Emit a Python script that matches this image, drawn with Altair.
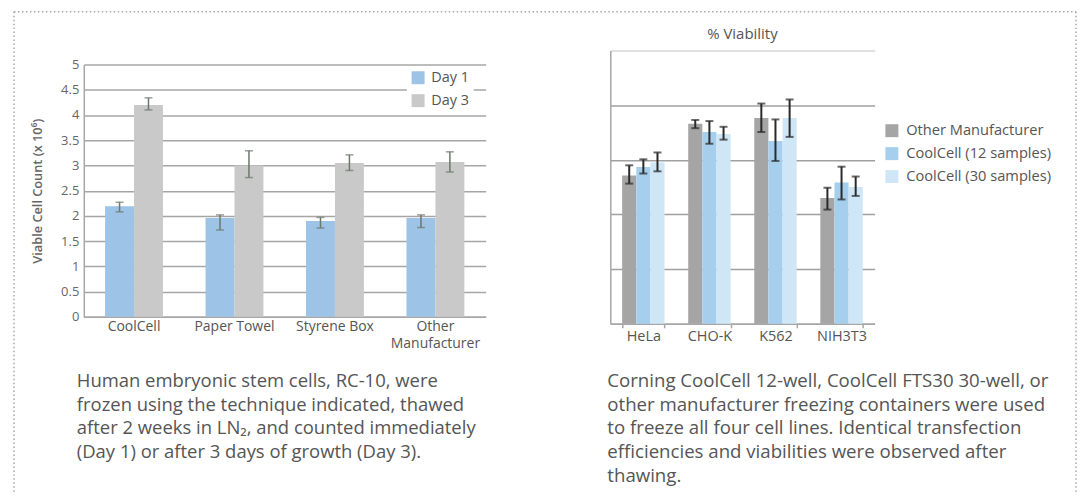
import altair as alt
import pandas as pd

FONT = "Open Sans"
TXT = "#555555"
GRID = "#a6a6a6"

# ---------------- Left chart data ----------------
methods = ["CoolCell", "Paper Towel", "Styrene Box", "Other|Manufacturer"]
days = ["Day 1", "Day 3"]
day1_mean = [2.19, 1.96, 1.90, 1.96]
day1_low = [2.08, 1.72, 1.76, 1.77]
day1_high = [2.27, 2.02, 1.97, 2.02]
day3_mean = [4.20, 3.00, 3.05, 3.07]
day3_low = [4.10, 2.76, 2.90, 2.87]
day3_high = [4.34, 3.29, 3.21, 3.27]
day_colors = ["#9dc3e6", "#c9c9c9"]
y_ticks_left = [0, 0.5, 1, 1.5, 2, 2.5, 3, 3.5, 4, 4.5, 5]

# ---------------- Right chart data ----------------
cell_lines = ["HeLa", "CHO-K", "K562", "NIH3T3"]
containers = ["Other Manufacturer", "CoolCell (12 samples)", "CoolCell (30 samples)"]
other_mean = [54.3, 73.2, 75.3, 46.0]
other_low = [51.3, 71.6, 70.2, 41.8]
other_high = [58.0, 74.6, 80.6, 49.8]
cc12_mean = [57.4, 70.2, 66.9, 51.7]
cc12_low = [55.0, 65.9, 59.6, 45.5]
cc12_high = [60.2, 74.2, 74.8, 57.5]
cc30_mean = [59.0, 69.5, 75.3, 50.1]
cc30_low = [55.8, 67.4, 68.4, 46.8]
cc30_high = [62.7, 72.1, 82.1, 53.9]
container_colors = ["#a5a5a5", "#a6cfee", "#cfe6f7"]
y_ticks_right = [0, 20, 40, 60, 80, 100]

caption_left = [
    "Human embryonic stem cells, RC-10, were",
    "frozen using the technique indicated, thawed",
    "after 2 weeks in LN\u2082, and counted immediately",
    "(Day 1) or after 3 days of growth (Day 3).",
]
caption_right = [
    "Corning CoolCell 12-well, CoolCell FTS30 30-well, or",
    "other manufacturer freezing containers were used",
    "to freeze all four cell lines. Identical transfection",
    "efficiencies and viabilities were observed after",
    "thawing.",
]

rows = []
for i, m in enumerate(methods):
    rows.append({"method": m, "day": "Day 1", "mean": day1_mean[i], "low": day1_low[i], "high": day1_high[i]})
    rows.append({"method": m, "day": "Day 3", "mean": day3_mean[i], "low": day3_low[i], "high": day3_high[i]})
df1 = pd.DataFrame(rows)

rows = []
series = [(other_mean, other_low, other_high), (cc12_mean, cc12_low, cc12_high), (cc30_mean, cc30_low, cc30_high)]
for i, c in enumerate(cell_lines):
    for j, name in enumerate(containers):
        m, lo, hi = series[j]
        rows.append({"line": c, "cont": name, "mean": m[i], "low": lo[i], "high": hi[i]})
df2 = pd.DataFrame(rows)

one = pd.DataFrame({"k": [0]})

W1, W2, H = 403, 265, 274

# ---------------- Left panel ----------------
xaxis1 = alt.Axis(title=None, labelAngle=0, labelExpr="split(datum.label, '|')",
                  labelFont=FONT, labelFontSize=14, labelColor=TXT, labelLineHeight=16.5,
                  offset=-7, domainColor=GRID, domainWidth=1.5, ticks=False, labelPadding=3)
xscale1 = alt.Scale(paddingInner=0.424, paddingOuter=0.212)
x1 = alt.X("method:N", sort=methods, scale=xscale1, axis=xaxis1)
xo1 = alt.XOffset("day:N", sort=days, scale=alt.Scale(paddingInner=0, paddingOuter=0))
yscale1 = alt.Scale(domain=[0, 5], range=[267, 14], nice=False, zero=True)
yaxis1 = alt.Axis(title="Viable Cell Count (x 10\u2076)", values=y_ticks_left, format="~g",
                  grid=True, gridColor=GRID, gridWidth=1.5, domainColor=GRID, domainWidth=1.5,
                  ticks=False, labelFont=FONT, labelFontSize=13, labelColor="#666666", labelPadding=5,
                  titleX=-46, titleY=140.5, titleAngle=270, titleAlign="center", titleBaseline="middle",
                  titleFont=FONT, titleFontSize=12.8, titleFontWeight=600, titleColor="#666666")

bars1 = alt.Chart(df1).mark_bar().encode(
    x=x1, xOffset=xo1, y=alt.Y("mean:Q", scale=yscale1, axis=yaxis1),
    color=alt.Color("day:N", sort=days, scale=alt.Scale(domain=days, range=day_colors),
                    legend=alt.Legend(title=None, orient="none", legendX=324, legendY=16,
                                      direction="vertical", symbolType="square", symbolSize=169,
                                      symbolStrokeWidth=0, labelFont=FONT, labelFontSize=14.5,
                                      labelColor=TXT, fillColor="white", padding=4, rowPadding=8,
                                      labelOffset=6)),
)
err1 = alt.Chart(df1).mark_rule(color="#6b786b", strokeWidth=1.5).encode(
    x=x1, xOffset=xo1,
    y=alt.Y("low:Q", scale=yscale1, axis=yaxis1), y2="high:Q")
caplo1 = alt.Chart(df1).mark_tick(color="#6b786b", thickness=1.5, size=8).encode(
    x=x1, xOffset=xo1, y=alt.Y("low:Q", scale=yscale1, axis=yaxis1))
caphi1 = alt.Chart(df1).mark_tick(color="#6b786b", thickness=1.5, size=8).encode(
    x=x1, xOffset=xo1, y=alt.Y("high:Q", scale=yscale1, axis=yaxis1))

# dotted frame around the whole figure (drawn from the left panel)
frame_style = dict(color="#a8a8a8", strokeWidth=1.5, strokeDash=[1.5, 2.5])
frame_top = alt.Chart(one).mark_rule(**frame_style).encode(
    x=alt.value(-70), x2=alt.value(995), y=alt.value(-39))
frame_left = alt.Chart(one).mark_rule(**frame_style).encode(
    x=alt.value(-70), y=alt.value(-39), y2=alt.value(444))
frame_right = alt.Chart(one).mark_rule(**frame_style).encode(
    x=alt.value(995), y=alt.value(-39), y2=alt.value(444))

cap1 = alt.Chart(one).mark_text(text=caption_left, align="left", baseline="alphabetic",
                                font=FONT, fontSize=18.5, color=TXT, lineHeight=24).encode(
    x=alt.value(-7), y=alt.value(337))

left = alt.layer(bars1, err1, caplo1, caphi1, frame_top, frame_left, frame_right, cap1).properties(
    width=W1, height=H)

# ---------------- Right panel ----------------
xaxis2 = alt.Axis(title=None, labelAngle=0, labelFont=FONT, labelFontSize=14.5, labelColor=TXT,
                  domainColor=GRID, domainWidth=1.5, ticks=True, tickBand="extent",
                  tickColor=GRID, tickSize=4, tickWidth=1.5, labelPadding=2)
xscale2 = alt.Scale(paddingInner=0.358, paddingOuter=0.179)
x2 = alt.X("line:N", sort=cell_lines, scale=xscale2, axis=xaxis2)
xo2 = alt.XOffset("cont:N", sort=containers, scale=alt.Scale(paddingInner=0, paddingOuter=0))
yscale2 = alt.Scale(domain=[0, 100], nice=False)
yaxis2 = alt.Axis(title=None, labels=False, ticks=False, values=y_ticks_right, grid=True,
                  gridColor=alt.condition("datum.value == 100", alt.value("#d6d6d6"), alt.value("#a0a0a0")),
                  gridWidth=1.5, domainColor=GRID, domainWidth=1.5)

bars2 = alt.Chart(df2).mark_bar().encode(
    x=x2, xOffset=xo2, y=alt.Y("mean:Q", scale=yscale2, axis=yaxis2),
    color=alt.Color("cont:N", sort=containers, scale=alt.Scale(domain=containers, range=container_colors),
                    legend=alt.Legend(title=None, orient="none", legendX=275, legendY=73,
                                      direction="vertical", symbolType="square", symbolSize=169,
                                      symbolStrokeWidth=0, labelFont=FONT, labelFontSize=14.7,
                                      labelColor=TXT, padding=0, rowPadding=7, labelOffset=7)),
)
err2 = alt.Chart(df2).mark_rule(color="#2a2a2a", strokeWidth=2).encode(
    x=x2, xOffset=xo2,
    y=alt.Y("low:Q", scale=yscale2, axis=yaxis2), y2="high:Q")
caplo2 = alt.Chart(df2).mark_tick(color="#2a2a2a", thickness=2, size=8).encode(
    x=x2, xOffset=xo2, y=alt.Y("low:Q", scale=yscale2, axis=yaxis2))
caphi2 = alt.Chart(df2).mark_tick(color="#2a2a2a", thickness=2, size=8).encode(
    x=x2, xOffset=xo2, y=alt.Y("high:Q", scale=yscale2, axis=yaxis2))

cap2 = alt.Chart(one).mark_text(text=caption_right, align="left", baseline="alphabetic",
                                font=FONT, fontSize=18.7, color=TXT, lineHeight=24).encode(
    x=alt.value(-3), y=alt.value(337))

right = alt.layer(bars2, err2, caplo2, caphi2, cap2).properties(
    width=W2, height=H,
    title=alt.TitleParams("% Viability", font=FONT, fontSize=15, fontWeight="normal", color=TXT, offset=9))

chart = alt.hconcat(left, right, spacing=125, bounds="flush").resolve_scale(
    color="independent", x="independent", y="independent", xOffset="independent"
).properties(
    padding={"left": 4, "top": 1, "right": 0, "bottom": 0},
    background="white",
).configure_view(stroke="transparent")

chart.save("out.html", embed_options={"renderer": "svg", "actions": False})
